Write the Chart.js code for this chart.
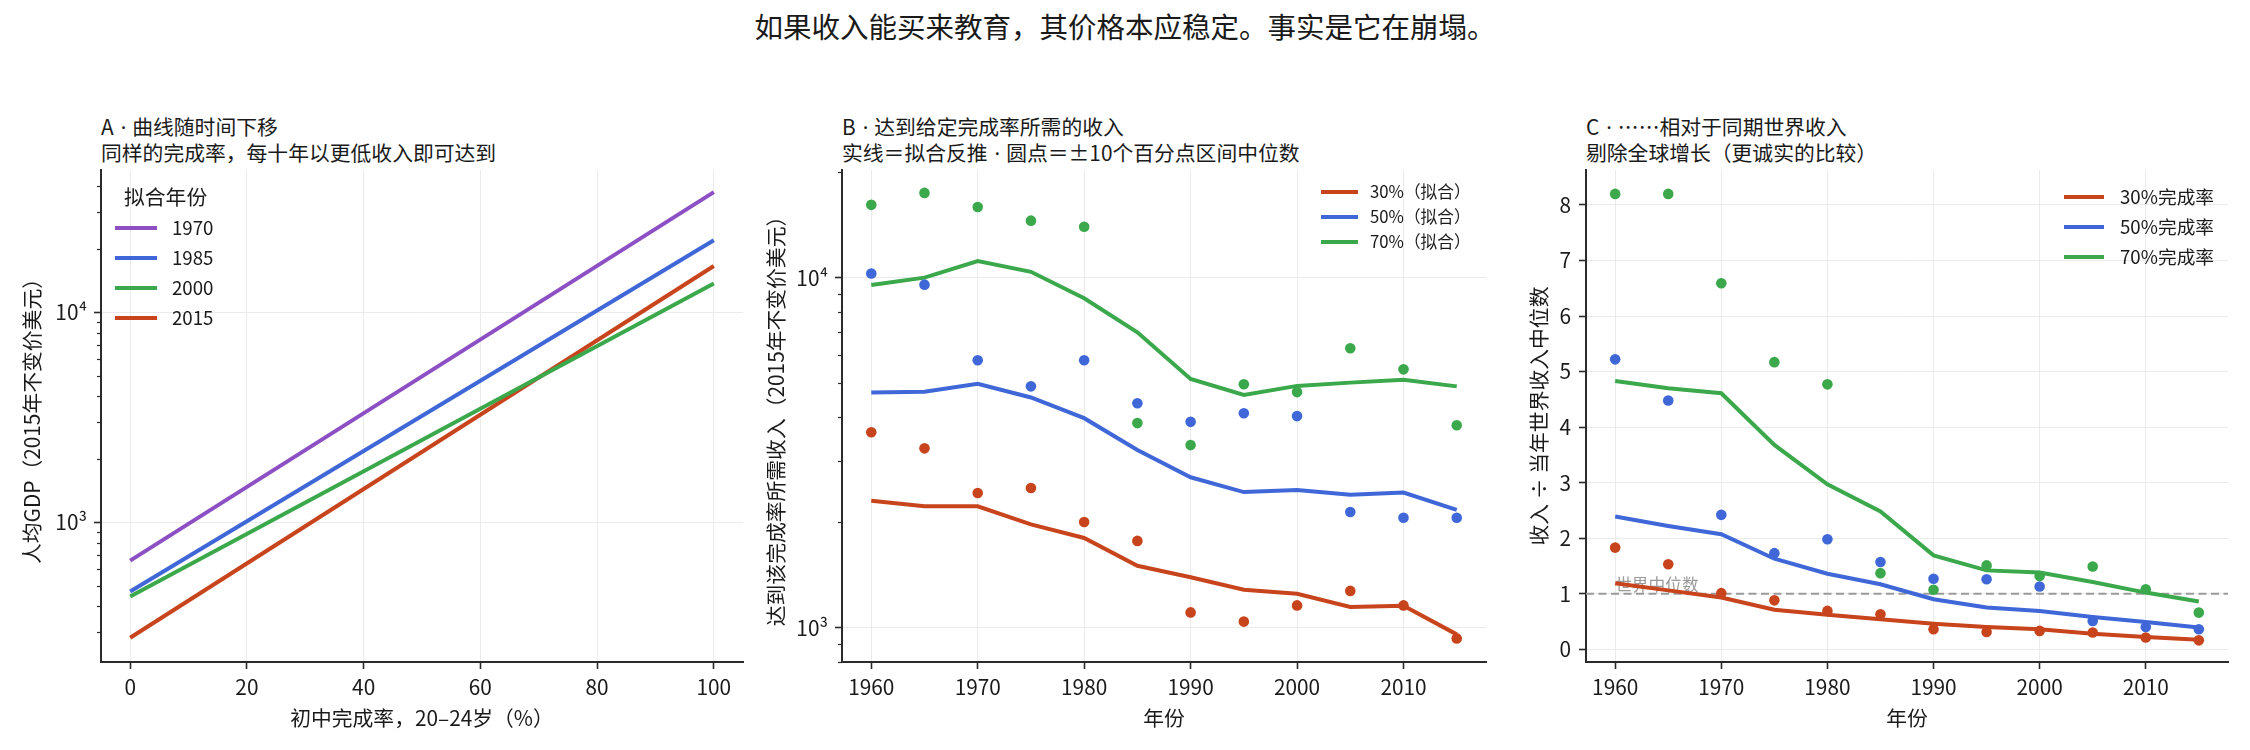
<!DOCTYPE html>
<html lang="zh-CN">
<head>
<meta charset="utf-8">
<script src="https://cdn.jsdelivr.net/npm/chart.js@4.4.1/dist/chart.umd.min.js"></script>
<style>
  body { margin: 0; background: #fff; }
  #fig { position: relative; width: 2250px; height: 750px; overflow: hidden; font-family: "Noto Sans CJK SC", sans-serif; color: #1a1a1a; }
  #fig canvas { position: absolute; top: 145px; }
  .sup { position: absolute; left: 0; width: 2250px; top: 9px; text-align: center; font-size: 28.5px; line-height: 34px; }
  .ttl { position: absolute; top: 114px; font-size: 20.8px; line-height: 25px; white-space: nowrap; }
  .dot { font-family: "Noto Sans", sans-serif; margin: 0 6px 0 7px; }
</style>
</head>
<body>
<div id="fig">
  <div class="sup">如果收入能买来教育，其价格本应稳定。事实是它在崩塌。</div>
  <div class="ttl" style="left:101px">A<span class="dot">·</span>曲线随时间下移<br>同样的完成率，每十年以更低收入即可达到</div>
  <div class="ttl" style="left:842px">B<span class="dot">·</span>达到给定完成率所需的收入<br>实线＝拟合反推<span class="dot">·</span>圆点＝±10个百分点区间中位数</div>
  <div class="ttl" style="left:1586px">C<span class="dot">·</span>……相对于同期世界收入<br>剔除全球增长（更诚实的比较）</div>
  <canvas id="chartA" width="760" height="605" style="left:0px"></canvas>
  <canvas id="chartB" width="760" height="605" style="left:760px"></canvas>
  <canvas id="chartC" width="730" height="605" style="left:1520px"></canvas>
</div>
<script>
// ---- data ----
// panel A: fitted curves, GDP per capita at 0% and 100% completion
const completion = [0, 100];
const fitYears = ['1970', '1985', '2000', '2015'];
const gdp1970 = [659, 37300];
const gdp1985 = [470, 22000];
const gdp2000 = [445, 13700];
const gdp2015 = [283, 16600];

// panels B and C
const years = [1960, 1965, 1970, 1975, 1980, 1985, 1990, 1995, 2000, 2005, 2010, 2015];

const fit30 = [2305, 2223, 2223, 1973, 1804, 1503, 1393, 1284, 1250, 1146, 1155, 957];
const fit50 = [4696, 4722, 4973, 4546, 3968, 3219, 2690, 2440, 2473, 2399, 2432, 2170];
const fit70 = [9522, 10000, 11150, 10390, 8730, 6980, 5136, 4620, 4906, 5013, 5110, 4891];
const med30 = [3617, 3253, 2426, 2506, 2005, 1770, 1106, 1041, 1158, 1274, 1158, 932];
const med50 = [10275, 9550, 5805, 4891, 5805, 4376, 3873, 4100, 4022, 2141, 2061, 2061];
const med70 = [16140, 17460, 15920, 14550, 13970, 3841, 3324, 4960, 4710, 6285, 5470, 3789];

const relFit30 = [1.19, 1.06, 0.93, 0.71, 0.62, 0.54, 0.46, 0.40, 0.36, 0.28, 0.22, 0.17];
const relFit50 = [2.39, 2.22, 2.07, 1.63, 1.36, 1.17, 0.90, 0.75, 0.69, 0.58, 0.49, 0.39];
const relFit70 = [4.83, 4.70, 4.61, 3.68, 2.97, 2.48, 1.69, 1.42, 1.38, 1.21, 1.02, 0.86];
const relMed30 = [1.83, 1.53, 1.01, 0.88, 0.69, 0.63, 0.36, 0.31, 0.33, 0.30, 0.21, 0.16];
const relMed50 = [5.22, 4.48, 2.42, 1.73, 1.98, 1.57, 1.27, 1.26, 1.13, 0.51, 0.40, 0.36];
const relMed70 = [8.20, 8.20, 6.59, 5.17, 4.77, 1.37, 1.07, 1.51, 1.32, 1.49, 1.08, 0.66];

const logTicks = [1000, 10000];
const worldMedian = 1;

// ---- style ----
const FONT = '"Noto Sans CJK SC", sans-serif';
const TEXT = '#1a1a1a';
const SPINE = '#2b2b2b';
const GRID = '#ebebeb';
const PURPLE = '#8c4fc4', BLUE = '#3f67d8', GREEN = '#3aa84b', RED = '#c8441d';

const pts = (xs, ys) => xs.map((x, i) => ({ x: x, y: ys[i] }));

function fitLine(label, xs, ys, color) {
  return { label: label, data: pts(xs, ys), borderColor: color, backgroundColor: color,
    borderWidth: 4, pointRadius: 0, tension: 0, order: 1 };
}
function dots(xs, ys, color) {
  return { label: '', isDots: true, data: pts(xs, ys), showLine: false, borderColor: color,
    pointBackgroundColor: color, pointBorderWidth: 0, pointRadius: 5.3, order: 0 };
}

const supers = { '3': '³', '4': '⁴' };
function logLabel(v) {
  const e = String(Math.round(Math.log10(v)));
  return '10' + (supers[e] || e);
}

// legend inside the axes, matplotlib-like
const insideLegend = {
  id: 'insideLegend',
  afterDraw(chart, args, o) {
    const { ctx, chartArea } = chart;
    const x0 = o.fromRight ? chartArea.right + o.dx : chartArea.left + o.dx;
    ctx.save();
    ctx.textBaseline = 'middle';
    ctx.fillStyle = TEXT;
    if (o.title) {
      ctx.font = o.titleSize + 'px ' + FONT;
      ctx.fillText(o.title, x0 + o.titleDx, chartArea.top + o.titleDy);
    }
    const items = chart.data.datasets.filter(d => !d.isDots);
    items.forEach((d, i) => {
      const y = chartArea.top + o.dy + i * o.rowH;
      ctx.strokeStyle = d.borderColor;
      ctx.lineWidth = 4;
      ctx.beginPath();
      ctx.moveTo(x0, y);
      ctx.lineTo(x0 + o.lineLen, y);
      ctx.stroke();
      ctx.font = o.size + 'px ' + FONT;
      ctx.fillText(d.label, x0 + o.textDx, y);
    });
    ctx.restore();
  }
};

// short minor ticks on log axes
const minorTicks = {
  id: 'minorTicks',
  afterDraw(chart) {
    const s = chart.scales.y;
    if (s.type !== 'logarithmic') return;
    const ctx = chart.ctx;
    ctx.save();
    ctx.strokeStyle = SPINE;
    ctx.lineWidth = 1.2;
    for (let e = Math.floor(Math.log10(s.min)); e <= Math.ceil(Math.log10(s.max)); e++) {
      for (let m = 2; m <= 9; m++) {
        const v = m * Math.pow(10, e);
        if (v < s.min || v > s.max) continue;
        const y = Math.round(s.getPixelForValue(v)) + 0.5;
        ctx.beginPath();
        ctx.moveTo(s.right - 4, y);
        ctx.lineTo(s.right, y);
        ctx.stroke();
      }
    }
    ctx.restore();
  }
};

// dashed world-median reference in panel C
const refLine = {
  id: 'refLine',
  beforeDatasetsDraw(chart, args, o) {
    if (!o || o.value === undefined) return;
    const { ctx, chartArea, scales } = chart;
    const y = scales.y.getPixelForValue(o.value);
    ctx.save();
    ctx.strokeStyle = '#9a9a9a';
    ctx.lineWidth = 2;
    ctx.setLineDash([8, 4.5]);
    ctx.beginPath();
    ctx.moveTo(chartArea.left, y);
    ctx.lineTo(chartArea.right, y);
    ctx.stroke();
    ctx.setLineDash([]);
    ctx.fillStyle = '#9a9a9a';
    ctx.font = '16.7px ' + FONT;
    ctx.textBaseline = 'bottom';
    ctx.fillText(o.text, scales.x.getPixelForValue(o.textX), y - 1);
    ctx.restore();
  }
};

function axisX(min, max, step, title, axisH) {
  return {
    type: 'linear', min: min, max: max,
    afterFit: s => { s.height = axisH; },
    ticks: { stepSize: step, includeBounds: false, padding: 6, color: TEXT, maxRotation: 0,
      font: { family: FONT, size: 20.8 }, callback: v => String(v) },
    grid: { color: GRID, lineWidth: 1, drawTicks: true, tickLength: 7, tickColor: SPINE, tickWidth: 1.6 },
    border: { display: true, color: SPINE, width: 2 },
    title: { display: true, text: title, color: TEXT, font: { family: FONT, size: 20.8 },
      padding: { top: 0, bottom: 19.5 } }
  };
}

function axisY(extra, title, axisW, titlePad) {
  return Object.assign({
    afterFit: s => { s.width = axisW; },
    grid: { color: GRID, lineWidth: 1, drawTicks: true, tickLength: 7, tickColor: SPINE, tickWidth: 1.6 },
    border: { display: true, color: SPINE, width: 2 },
    title: { display: true, text: title, color: TEXT, font: { family: FONT, size: 20.8 },
      padding: { top: titlePad, bottom: 0 } }
  }, extra);
}

function logY(min, max, title, axisW, titlePad) {
  return axisY({
    type: 'logarithmic', min: min, max: max,
    afterBuildTicks: s => { s.ticks = logTicks.map(v => ({ value: v })); },
    ticks: { padding: 7, color: TEXT, font: { family: FONT, size: 20.8 }, callback: v => logLabel(v) }
  }, title, axisW, titlePad);
}

function baseOptions(padRight, scales, plugins) {
  return {
    responsive: false, animation: false, events: [],
    layout: { padding: { left: 0, right: padRight, top: 25, bottom: 0 } },
    scales: scales,
    plugins: Object.assign({ legend: { display: false }, tooltip: { enabled: false } }, plugins)
  };
}

// ---- panel A ----
new Chart(document.getElementById('chartA'), {
  type: 'line',
  data: { datasets: [
    fitLine(fitYears[0], completion, gdp1970, PURPLE),
    fitLine(fitYears[1], completion, gdp1985, BLUE),
    fitLine(fitYears[2], completion, gdp2000, GREEN),
    fitLine(fitYears[3], completion, gdp2015, RED)
  ] },
  options: baseOptions(17, {
    x: axisX(-5, 105, 20, '初中完成率，20–24岁（%）', 88),
    y: logY(217, 47500, '人均GDP（2015年不变价美元）', 101, 19.5)
  }, {
    insideLegend: { fromRight: false, dx: 14, dy: 58, rowH: 30, lineLen: 42, textDx: 57, size: 18.7,
      title: '拟合年份', titleSize: 20.8, titleDx: 9, titleDy: 27 }
  }),
  plugins: [insideLegend, minorTicks]
});

// ---- panel B ----
new Chart(document.getElementById('chartB'), {
  type: 'line',
  data: { datasets: [
    fitLine('30%（拟合）', years, fit30, RED),
    fitLine('50%（拟合）', years, fit50, BLUE),
    fitLine('70%（拟合）', years, fit70, GREEN),
    dots(years, med30, RED),
    dots(years, med50, BLUE),
    dots(years, med70, GREEN)
  ] },
  options: baseOptions(34, {
    x: axisX(1957.25, 2017.75, 10, '年份', 88),
    y: logY(798, 20300, '达到该完成率所需收入（2015年不变价美元）', 82, 3.5)
  }, {
    insideLegend: { fromRight: true, dx: -165, dy: 22, rowH: 25, lineLen: 37, textDx: 49, size: 16.7 }
  }),
  plugins: [insideLegend, minorTicks]
});

// ---- panel C ----
new Chart(document.getElementById('chartC'), {
  type: 'line',
  data: { datasets: [
    fitLine('30%完成率', years, relFit30, RED),
    fitLine('50%完成率', years, relFit50, BLUE),
    fitLine('70%完成率', years, relFit70, GREEN),
    dots(years, relMed30, RED),
    dots(years, relMed50, BLUE),
    dots(years, relMed70, GREEN)
  ] },
  options: baseOptions(22, {
    x: axisX(1957.25, 2017.75, 10, '年份', 88),
    y: axisY({
      type: 'linear', min: -0.23, max: 8.63,
      ticks: { stepSize: 1, includeBounds: false, padding: 8, color: TEXT,
        font: { family: FONT, size: 20.8 }, callback: v => String(v) }
    }, '收入 ÷ 当年世界收入中位数', 66, 6.5)
  }, {
    insideLegend: { fromRight: true, dx: -164, dy: 27, rowH: 30, lineLen: 40, textDx: 56, size: 18.7 },
    refLine: { value: worldMedian, text: '世界中位数', textX: 1960 }
  }),
  plugins: [insideLegend, refLine]
});
</script>
</body>
</html>
